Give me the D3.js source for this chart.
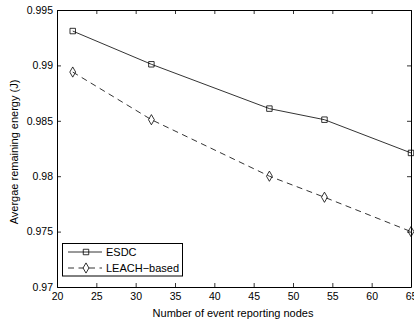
<!DOCTYPE html>
<html><head><meta charset="utf-8">
<script src="https://cdn.jsdelivr.net/npm/d3@7"></script>
<style>body{margin:0;background:#fff}svg{display:block}text{font-family:"Liberation Sans",Arial,Helvetica,sans-serif}</style>
</head><body>
<script>
const xValues = [22, 32, 47, 54, 65];
const esdc = [0.9931, 0.9901, 0.9861, 0.9851, 0.9821];
const leach = [0.9894, 0.9851, 0.9800, 0.9781, 0.9750];
const xTicks = [20, 25, 30, 35, 40, 45, 50, 55, 60, 65];
const yTicks = [0.97, 0.975, 0.98, 0.985, 0.99, 0.995];
const seriesNames = ["ESDC", "LEACH\u2212based"];

const W = 414, H = 322;
const m = {l: 57, r: 3, t: 10, b: 35};
const svg = d3.select("body").append("svg").attr("width", W).attr("height", H);
const x = d3.scaleLinear().domain([20, 65]).range([m.l, W - m.r]);
const y = d3.scaleLinear().domain([0.97, 0.995]).range([H - m.b, m.t]);
const fs = 10.5;

// axes
const fmtY = d => String(+d.toFixed(3));
const gx = svg.append("g").attr("transform", `translate(0,${H - m.b})`)
  .call(d3.axisBottom(x).tickValues(xTicks).tickSizeInner(-4).tickSizeOuter(0).tickPadding(6));
const gxt = svg.append("g").attr("transform", `translate(0,${m.t})`)
  .call(d3.axisTop(x).tickValues(xTicks).tickSizeInner(-4).tickSizeOuter(0).tickFormat(""));
const gy = svg.append("g").attr("transform", `translate(${m.l},0)`)
  .call(d3.axisLeft(y).tickValues(yTicks).tickSizeInner(-4).tickSizeOuter(0).tickPadding(4).tickFormat(fmtY));
const gyr = svg.append("g").attr("transform", `translate(${W - m.r},0)`)
  .call(d3.axisRight(y).tickValues(yTicks).tickSizeInner(-4).tickSizeOuter(0).tickFormat(""));
[gx, gxt, gy, gyr].forEach(g => {
  g.selectAll("path").attr("stroke", "#000").attr("stroke-width", 1);
  g.selectAll("line").attr("stroke", "#000").attr("stroke-width", 0.8);
  g.selectAll("text").attr("font-size", fs).attr("fill", "#000")
    .attr("font-family", '"Liberation Sans",Arial,sans-serif');
});

// lines
const line = d3.line().x((d, i) => x(xValues[i])).y(d => y(d));
svg.append("path").datum(esdc).attr("d", line).attr("fill", "none").attr("stroke", "#000").attr("stroke-width", 0.8);
svg.append("path").datum(leach).attr("d", line).attr("fill", "none").attr("stroke", "#000").attr("stroke-width", 0.8).attr("stroke-dasharray", "6,4.5");

const sq = d3.symbol().type(d3.symbolSquare).size(30);
const dm = d3.symbol().type(d3.symbolDiamond).size(30);
svg.append("g").selectAll("path").data(esdc).join("path")
  .attr("d", sq).attr("transform", (d, i) => `translate(${x(xValues[i])},${y(d)})`)
  .attr("fill", "none").attr("stroke", "#000").attr("stroke-width", 0.8);
svg.append("g").selectAll("path").data(leach).join("path")
  .attr("d", dm).attr("transform", (d, i) => `translate(${x(xValues[i])},${y(d)})`)
  .attr("fill", "none").attr("stroke", "#000").attr("stroke-width", 0.8);

// labels
svg.append("text").attr("x", (m.l + W - m.r) / 2 - 1).attr("y", 317).attr("text-anchor", "middle")
  .attr("font-size", 11).text("Number of event reporting nodes");
svg.append("text").attr("transform", `translate(17.5,152) rotate(-90)`)
  .attr("text-anchor", "middle").attr("font-size", 11).text("Avergae remaining energy (J)");

// legend
const lg = svg.append("g");
lg.append("rect").attr("x", 62.5).attr("y", 243.5).attr("width", 120).attr("height", 32.5)
  .attr("fill", "#fff").attr("stroke", "#000").attr("stroke-width", 1);
const ly = [252, 268];
seriesNames.forEach((n, i) => {
  lg.append("line").attr("x1", 68).attr("x2", 102).attr("y1", ly[i]).attr("y2", ly[i])
    .attr("stroke", "#000").attr("stroke-width", 0.8).attr("stroke-dasharray", i ? "6,4.5" : null);
  lg.append("path").attr("d", i ? dm : sq).attr("transform", `translate(86,${ly[i]})`)
    .attr("fill", i ? "#fff" : "none").attr("stroke", "#000").attr("stroke-width", 0.8);
  lg.append("text").attr("x", 106).attr("y", ly[i] + 4).attr("font-size", 11).text(n);
});
</script>
</body></html>
